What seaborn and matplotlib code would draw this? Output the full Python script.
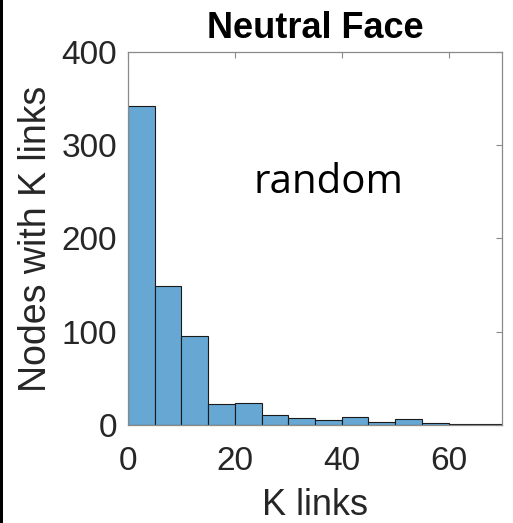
import numpy as np
import pandas as pd
import seaborn as sns
import matplotlib
matplotlib.use("Agg")
import matplotlib.pyplot as plt
from matplotlib.patches import Rectangle

# Degree distribution: number of nodes per K-links bin (bin width 5)
bin_edges = [0, 5, 10, 15, 20, 25, 30, 35, 40, 45, 50, 55, 60, 65, 70]
node_counts = [342, 149, 95, 22, 24, 11, 7, 5, 9, 3, 6, 2, 1, 1]
x_ticks = [0, 20, 40, 60]
y_ticks = [0, 100, 200, 300, 400]

sns.set_style("white")
plt.rcParams["font.family"] = ["Liberation Sans", "DejaVu Sans"]

bin_centers = [(a + b) / 2 for a, b in zip(bin_edges[:-1], bin_edges[1:])]
df = pd.DataFrame({"k": bin_centers, "n": node_counts})

fig = plt.figure(figsize=(5.13, 5.23), dpi=100)
ax = fig.add_axes([0.2495, 0.1874, 0.7291, 0.7132])

sns.histplot(data=df, x="k", weights="n", bins=bin_edges, ax=ax,
             color="#66a7d3", alpha=1.0, edgecolor="#1a1a1a", linewidth=0.8)

ax.set_xlim(0, 70)
ax.set_ylim(0, 400)
ax.set_xticks(x_ticks)
ax.set_yticks(y_ticks)

frame_gray = "#8a8a8a"
for s in ax.spines.values():
    s.set_visible(True)
    s.set_color(frame_gray)
    s.set_linewidth(0.9)

ax.tick_params(axis="both", direction="in", length=4, width=0.8, color=frame_gray,
               labelsize=24, labelcolor="#262626", top=True, right=True)
ax.tick_params(axis="x", pad=15)
ax.tick_params(axis="y", pad=8)

ax.set_xlabel("K links", fontsize=26, color="#262626", labelpad=8)
ax.set_ylabel("Nodes with K links", fontsize=27, color="#262626", labelpad=5)
ax.set_title("Neutral Face", fontsize=26, fontweight="bold", color="black", pad=10)

ax.text(37.6, 249, "random", fontsize=29, family=["Open Sans", "DejaVu Sans"],
        ha="center", va="baseline", color="black")

# Dark strip along the left edge of the figure
fig.add_artist(Rectangle((0, 0), 3 / 513, 1, transform=fig.transFigure,
                         color="black", lw=0))

fig.savefig("out.png", dpi=100)
